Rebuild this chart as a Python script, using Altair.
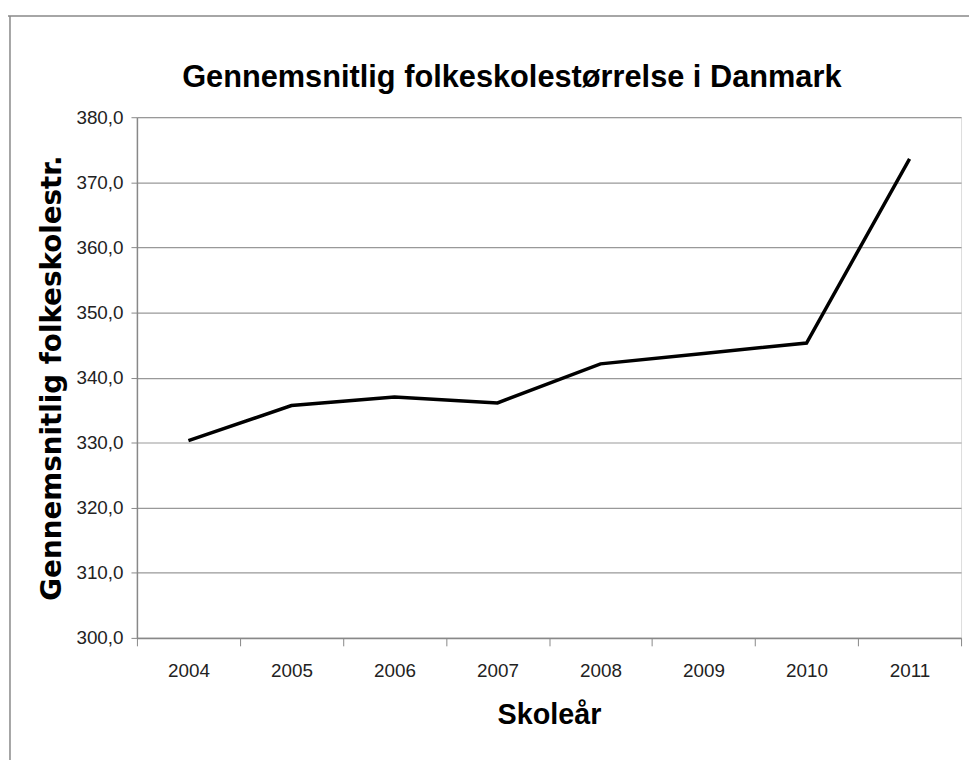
import altair as alt
import pandas as pd

years = ["2004", "2005", "2006", "2007", "2008", "2009", "2010", "2011"]
sizes = [330.3, 335.7, 337.0, 336.1, 342.1, 343.7, 345.3, 373.6]
y_ticks = [300, 310, 320, 330, 340, 350, 360, 370, 380]

title_text = "Gennemsnitlig folkeskolestørrelse i Danmark"
x_title = "Skoleår"
y_title = "Gennemsnitlig folkeskolestr."

df = pd.DataFrame({"year": years, "size": sizes})

SANS = "Liberation Sans Narrow, Liberation Sans, sans-serif"
W, H = 831, 525

line = alt.Chart(df).mark_line(color="black", strokeWidth=3.5).encode(
    x=alt.X(
        "year:N",
        bandPosition=0.5,
        scale=alt.Scale(type="band", paddingInner=0, paddingOuter=0),
        sort=years,
        axis=alt.Axis(
            title=x_title,
            labelAngle=0,
            tickBand="extent",
            ticks=True,
            tickSize=8,
            tickColor="#888",
            domainColor="#888",
            domainWidth=1.5,
            grid=False,
            labelFont=SANS,
            labelFontSize=19,
            labelColor="#222",
            labelPadding=16,
            titleFont=SANS,
            titleFontSize=29,
            titleFontWeight="bold",
            titleColor="black",
            titlePadding=20,
        ),
    ),
    y=alt.Y(
        "size:Q",
        scale=alt.Scale(domain=[300, 380], nice=False, zero=False),
        axis=alt.Axis(
            title=y_title,
            values=y_ticks,
            labelExpr="replace(format(datum.value, '.1f'), '.', ',')",
            tickSize=6,
            tickColor="#888",
            domainColor="#888",
            domainWidth=1.5,
            gridColor="#999",
            gridWidth=1.2,
            labelFont=SANS,
            labelFontSize=19,
            labelColor="#222",
            labelPadding=8,
            titleFont="DejaVu Sans",
            titleFontSize=28,
            titleFontWeight="bold",
            titleColor="black",
            titlePadding=10,
        ),
    ),
)

one = pd.DataFrame({"label": [title_text]})
frame_top = alt.Chart(one).mark_rule(color="#888", strokeWidth=1.5).encode(
    x=alt.value(-130), x2=alt.value(W + 20), y=alt.value(-102)
)
frame_left = alt.Chart(one).mark_rule(color="#888", strokeWidth=1.5).encode(
    x=alt.value(-128), y=alt.value(-102), y2=alt.value(H + 200)
)
title = alt.Chart(one).mark_text(
    font=SANS, fontSize=31, fontWeight="bold", color="black",
    align="center", baseline="alphabetic",
).encode(
    text="label:N", x=alt.value(378), y=alt.value(-30)
)

chart = (
    alt.layer(frame_top, frame_left, title, line)
    .properties(
        width=W,
        height=H,
        autosize=alt.AutoSizeParams(type="none"),
        padding={"left": 130, "top": 107, "right": 8, "bottom": 120},
    )
    .configure_view(stroke=None)
    .configure(background="white")
)

chart.save("out.html", embed_options={"renderer": "svg", "actions": False})
